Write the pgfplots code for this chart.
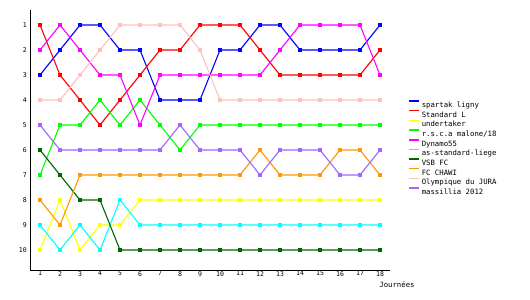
\documentclass[border=0pt]{standalone}
\usepackage{pgfplots}
\pgfplotsset{compat=1.18}
\usepackage{fontspec}
\setmainfont{DejaVu Sans Mono}
\definecolor{cblue}{HTML}{0000FF}
\definecolor{cred}{HTML}{FF0000}
\definecolor{cyellow}{HTML}{FFFF00}
\definecolor{cgreen}{HTML}{00FF00}
\definecolor{cmag}{HTML}{FF00FF}
\definecolor{ccyan}{HTML}{00FFFF}
\definecolor{cdgreen}{HTML}{006600}
\definecolor{corange}{HTML}{FF9900}
\definecolor{cpink}{HTML}{FFC0C0}
\definecolor{cpurple}{HTML}{A066FF}
\begin{document}
\begin{tikzpicture}
\fill[white] (0,0) rectangle (530bp,300bp);
\useasboundingbox (0,0) rectangle (530bp,300bp);
\begin{axis}[
  at={(30bp,30bp)}, anchor=south west,
  scale only axis, width=360bp, height=260bp,
  xmin=0.5, xmax=18.5, ymin=0.4, ymax=10.8,
  y dir=reverse,
  axis x line=bottom, axis y line=left,
  axis line style={line width=0.8bp, -},
  xtick={1,...,18}, ytick={1,...,10},
  major tick length=0pt,
  tick label style={font=\fontsize{6.5bp}{7bp}\selectfont},
  xticklabel style={inner sep=1bp, yshift=0bp},
  yticklabel style={inner sep=1bp, xshift=-2bp},
  /pgf/number format/assume math mode=true,
  every axis plot/.append style={line width=1.1bp, mark=square*, mark size=1.2bp, mark options={solid}},
  legend cell align=left,
  legend style={draw=none, fill=none, at={(1.05,0.655)}, anchor=north west,
    font=\fontsize{7.3bp}{9bp}\selectfont, inner sep=0pt, row sep=-1.3bp,
    /tikz/every even column/.append style={column sep=2bp}},
  legend image code/.code={\draw[#1, mark=none, line width=1.6bp] (0bp,4.5bp) -- (10bp,4.5bp);},
  clip=false,
]
\addplot[cblue] coordinates {(1,3)(2,2)(3,1)(4,1)(5,2)(6,2)(7,4)(8,4)(9,4)(10,2)(11,2)(12,1)(13,1)(14,2)(15,2)(16,2)(17,2)(18,1)};
\addlegendentry{spartak ligny}
\addplot[cred] coordinates {(1,1)(2,3)(3,4)(4,5)(5,4)(6,3)(7,2)(8,2)(9,1)(10,1)(11,1)(12,2)(13,3)(14,3)(15,3)(16,3)(17,3)(18,2)};
\addlegendentry{Standard L}
\addplot[cyellow] coordinates {(1,10)(2,8)(3,10)(4,9)(5,9)(6,8)(7,8)(8,8)(9,8)(10,8)(11,8)(12,8)(13,8)(14,8)(15,8)(16,8)(17,8)(18,8)};
\addlegendentry{undertaker}
\addplot[cgreen] coordinates {(1,7)(2,5)(3,5)(4,4)(5,5)(6,4)(7,5)(8,6)(9,5)(10,5)(11,5)(12,5)(13,5)(14,5)(15,5)(16,5)(17,5)(18,5)};
\addlegendentry{r.s.c.a malone/18}
\addplot[cmag] coordinates {(1,2)(2,1)(3,2)(4,3)(5,3)(6,5)(7,3)(8,3)(9,3)(10,3)(11,3)(12,3)(13,2)(14,1)(15,1)(16,1)(17,1)(18,3)};
\addlegendentry{Dynamo55}
\addplot[ccyan] coordinates {(1,9)(2,10)(3,9)(4,10)(5,8)(6,9)(7,9)(8,9)(9,9)(10,9)(11,9)(12,9)(13,9)(14,9)(15,9)(16,9)(17,9)(18,9)};
\addlegendentry{as-standard-liege}
\addplot[cdgreen] coordinates {(1,6)(2,7)(3,8)(4,8)(5,10)(6,10)(7,10)(8,10)(9,10)(10,10)(11,10)(12,10)(13,10)(14,10)(15,10)(16,10)(17,10)(18,10)};
\addlegendentry{VSB FC}
\addplot[corange] coordinates {(1,8)(2,9)(3,7)(4,7)(5,7)(6,7)(7,7)(8,7)(9,7)(10,7)(11,7)(12,6)(13,7)(14,7)(15,7)(16,6)(17,6)(18,7)};
\addlegendentry{FC CHAWI}
\addplot[cpink] coordinates {(1,4)(2,4)(3,3)(4,2)(5,1)(6,1)(7,1)(8,1)(9,2)(10,4)(11,4)(12,4)(13,4)(14,4)(15,4)(16,4)(17,4)(18,4)};
\addlegendentry{Olympique du JURA}
\addplot[cpurple] coordinates {(1,5)(2,6)(3,6)(4,6)(5,6)(6,6)(7,6)(8,5)(9,6)(10,6)(11,6)(12,7)(13,6)(14,6)(15,6)(16,7)(17,7)(18,6)};
\addlegendentry{massillia 2012}
\node[font=\fontsize{7.3bp}{9bp}\selectfont, anchor=west, inner sep=0pt] at (rel axis cs:0.97,-0.058) {Journées};
\end{axis}
\end{tikzpicture}
\end{document}
